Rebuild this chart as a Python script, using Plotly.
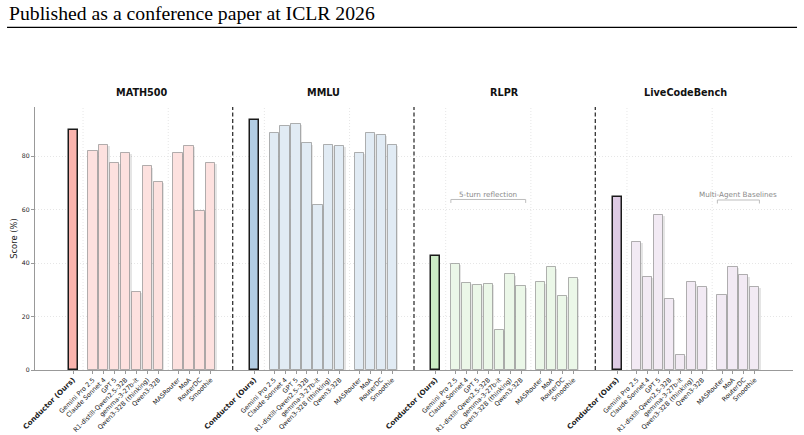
import plotly.graph_objects as go

# ---------------- data ----------------
benchmarks = ["MATH500", "MMLU", "RLPR", "LiveCodeBench"]
models = ["Conductor (Ours)", "Gemini Pro 2.5", "Claude Sonnet 4", "GPT 5",
          "R1-distill-Qwen2.5-32B", "gemma-3-27b-it", "Qwen3-32B (thinking)",
          "Qwen3-32B", "MASRouter", "MoA", "RouterDC", "Smoothie"]
math500 = [89.7, 82.1, 84.1, 77.4, 81.3, 29.1, 76.2, 70.3, 81.1, 83.7, 59.6, 77.4]
mmlu = [93.4, 88.8, 91.2, 92.2, 84.8, 61.9, 84.1, 83.8, 81.1, 88.8, 88.1, 84.1]
rlpr = [42.8, 39.6, 32.5, 31.8, 32.1, 14.9, 35.8, 31.3, 32.8, 38.4, 27.6, 34.6]
livecodebench = [64.6, 47.8, 34.7, 57.9, 26.5, 5.6, 32.8, 31.0, 28.0, 38.7, 35.4, 31.0]
scores = [math500, mmlu, rlpr, livecodebench]

# ---------------- styling ----------------
base_colors = ["#fbb4ae", "#b3cde3", "#ccebc5", "#decbe4"]
light_colors = ["#fde1df", "#e1ebf4", "#ebf7e8", "#f2eaf4"]
FONT = "DejaVu Sans"

# slot layout within each benchmark group
slots = [0.0] + [1.8 + i for i in range(7)] + [9.6 + j for j in range(4)]
period = 16.6
bw = 0.85
sep_a, sep_b, dash_off = 0.9, 8.7, 14.6

fig = go.Figure()

tickvals, ticktext = [], []
for g, (bench, vals) in enumerate(zip(benchmarks, scores)):
    xs = [g * period + s for s in slots]
    # subtle drop shadow
    fig.add_trace(go.Bar(
        x=[x + 0.11 for x in xs[1:]], y=[v - 0.45 for v in vals[1:]], width=bw,
        marker=dict(color="rgba(0,0,0,0.10)", line=dict(width=0)),
        hoverinfo="skip", showlegend=False))
    # baselines
    fig.add_trace(go.Bar(
        x=xs[1:], y=vals[1:], width=bw, name=bench,
        marker=dict(color=light_colors[g], line=dict(color="rgba(135,135,135,0.65)", width=1)),
        showlegend=False))
    # conductor
    fig.add_trace(go.Bar(
        x=xs[:1], y=vals[:1], width=bw,
        marker=dict(color=base_colors[g], line=dict(color="#1a1a1a", width=1.5)),
        showlegend=False))
    for k, (x, m) in enumerate(zip(xs, models)):
        tickvals.append(x)
        if k == 0:
            ticktext.append("<span style='font-size:7.2px'><b>%s</b></span>" % m)
        else:
            ticktext.append(m)
    # panel title
    fig.add_annotation(x=(xs[0] + xs[-1]) / 2, xref="x", y=1.056, yref="paper",
                       text="<b>%s</b>" % bench, showarrow=False,
                       font=dict(family=FONT, size=9.7, color="#111"),
                       xanchor="center", yanchor="middle")
    # light dotted separators
    for sx in (sep_a, sep_b):
        fig.add_shape(type="line", xref="x", yref="paper",
                      x0=g * period + sx, x1=g * period + sx, y0=0, y1=1,
                      line=dict(color="#e0e0e0", width=0.8, dash="1px,2px"), layer="below")
    if g < len(benchmarks) - 1:
        fig.add_shape(type="line", xref="x", yref="paper",
                      x0=g * period + dash_off, x1=g * period + dash_off, y0=0, y1=1,
                      line=dict(color="#333333", width=1.3, dash="4px,2.5px"))


def bracket(x0, x1, y, label):
    col = "#bdbdbd"
    fig.add_shape(type="line", xref="x", yref="y", x0=x0, x1=x1, y0=y, y1=y,
                  line=dict(color=col, width=1))
    for xx in (x0, x1):
        fig.add_shape(type="line", xref="x", yref="y", x0=xx, x1=xx, y0=y, y1=y - 1.3,
                      line=dict(color=col, width=1))
    fig.add_annotation(x=(x0 + x1) / 2, y=y + 1.9, xref="x", yref="y", text=label,
                       showarrow=False, font=dict(family=FONT, size=7.2, color="#8a8a8a"),
                       xanchor="center", yanchor="middle")


g = 2
bracket(g * period + slots[1] - bw / 2, g * period + slots[7] + bw / 2, 63.8, "5-turn reflection")
g = 3
bracket(g * period + slots[8] - bw / 2, g * period + slots[11] + bw / 2, 63.6, "Multi-Agent Baselines")

# page header
fig.add_annotation(x=-0.0369, xref="paper", y=1.357, yref="paper",
                   text="Published as a conference paper at ICLR 2026", showarrow=False,
                   font=dict(family="Liberation Serif", size=19.7, color="#000"),
                   xanchor="left", yanchor="middle")
fig.add_shape(type="line", xref="paper", yref="paper", x0=-0.0369, x1=1.0053,
              y0=1.3024, y1=1.3024, line=dict(color="#000", width=1.2))

fig.update_layout(
    width=804, height=435, autosize=False,
    margin=dict(l=35, r=11, t=107, b=65),
    paper_bgcolor="white", plot_bgcolor="white",
    barmode="overlay", bargap=0,
    font=dict(family=FONT, color="#222"),
)
fig.update_xaxes(
    range=[-3.5, 3 * period + 12.6 + 3.5], automargin=False,
    tickmode="array", tickvals=tickvals, ticktext=ticktext, tickangle=-45,
    tickfont=dict(family=FONT, size=6.4, color="#222"),
    ticks="outside", ticklen=2.5, tickcolor="#999", tickwidth=0.8,
    showline=True, linecolor="#999", linewidth=1.3,
    showgrid=False, zeroline=False,
)
fig.update_yaxes(
    range=[0, 98.4], tickvals=[0, 20, 40, 60, 80], automargin=False,
    tickfont=dict(family=FONT, size=6.2, color="#222"),
    ticks="outside", ticklen=3, tickcolor="#999", tickwidth=0.8,
    showline=True, linecolor="#999", linewidth=1.3,
    showgrid=True, gridcolor="#e6e6e6", griddash="1px,2px", gridwidth=0.8,
    zeroline=False,
    title=dict(text="Score (%)", font=dict(family=FONT, size=8.4, color="#222"), standoff=2),
)

fig.write_html("out.html")
